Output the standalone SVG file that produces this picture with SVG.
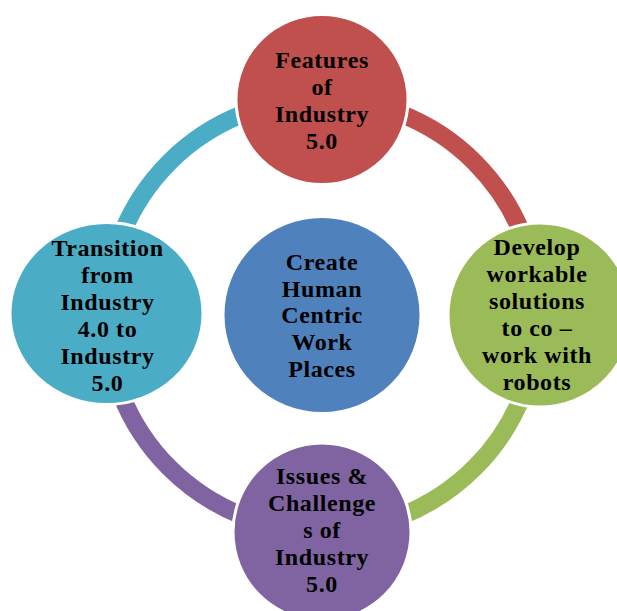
<svg xmlns="http://www.w3.org/2000/svg" width="617" height="611" viewBox="0 0 617 611">
<style>
.arc{fill:none;stroke-width:18}
.node{stroke:#fff;stroke-width:3}
.t{font-family:"Liberation Serif","Times New Roman",serif;font-weight:bold;font-size:24px;letter-spacing:0.6px;fill:#000;text-anchor:middle}
</style>
<rect width="617" height="611" fill="#fff"/>
<g id="connectors">
<path class="arc" stroke="#C0504D" d="M322,99 A216,216 0 0 1 538,315"/>
<path class="arc" stroke="#9BBB59" d="M538,315 A216,216 0 0 1 322,531"/>
<path class="arc" stroke="#8064A2" d="M322,531 A216,216 0 0 1 106,315"/>
<path class="arc" stroke="#4BACC6" d="M106,315 A216,216 0 0 1 322,99"/>
</g>
<g id="center">
<ellipse class="node" cx="322" cy="315" rx="99" ry="98.5" fill="#4F81BD"/>
<text class="t" x="322" y="270">Create</text>
<text class="t" x="322" y="296.7">Human</text>
<text class="t" x="322" y="323.3">Centric</text>
<text class="t" x="322" y="350">Work</text>
<text class="t" x="322" y="376.7">Places</text>
</g>
<g id="top">
<ellipse class="node" cx="322" cy="99.5" rx="86" ry="85" fill="#C0504D"/>
<text class="t" x="322" y="68">Features</text>
<text class="t" x="322" y="95">of</text>
<text class="t" x="322" y="122">Industry</text>
<text class="t" x="322" y="149">5.0</text>
</g>
<g id="right">
<ellipse class="node" cx="540" cy="315" rx="92" ry="92" fill="#9BBB59"/>
<text class="t" x="537" y="255">Develop</text>
<text class="t" x="537" y="282">workable</text>
<text class="t" x="537" y="309">solutions</text>
<text class="t" x="537" y="336">to co –</text>
<text class="t" x="537" y="363">work with</text>
<text class="t" x="537" y="390">robots</text>
</g>
<g id="bottom">
<ellipse class="node" cx="322" cy="532" rx="89" ry="89" fill="#8064A2"/>
<text class="t" x="322" y="484">Issues &amp;</text>
<text class="t" x="322" y="511">Challenge</text>
<text class="t" x="322" y="538">s of</text>
<text class="t" x="322" y="565">Industry</text>
<text class="t" x="322" y="592">5.0</text>
</g>
<g id="left">
<ellipse class="node" cx="106.5" cy="313.5" rx="96.5" ry="91" fill="#4BACC6"/>
<text class="t" x="107.5" y="256">Transition</text>
<text class="t" x="107.5" y="283">from</text>
<text class="t" x="107.5" y="310">Industry</text>
<text class="t" x="107.5" y="337">4.0 to</text>
<text class="t" x="107.5" y="364">Industry</text>
<text class="t" x="107.5" y="391">5.0</text>
</g>
</svg>
